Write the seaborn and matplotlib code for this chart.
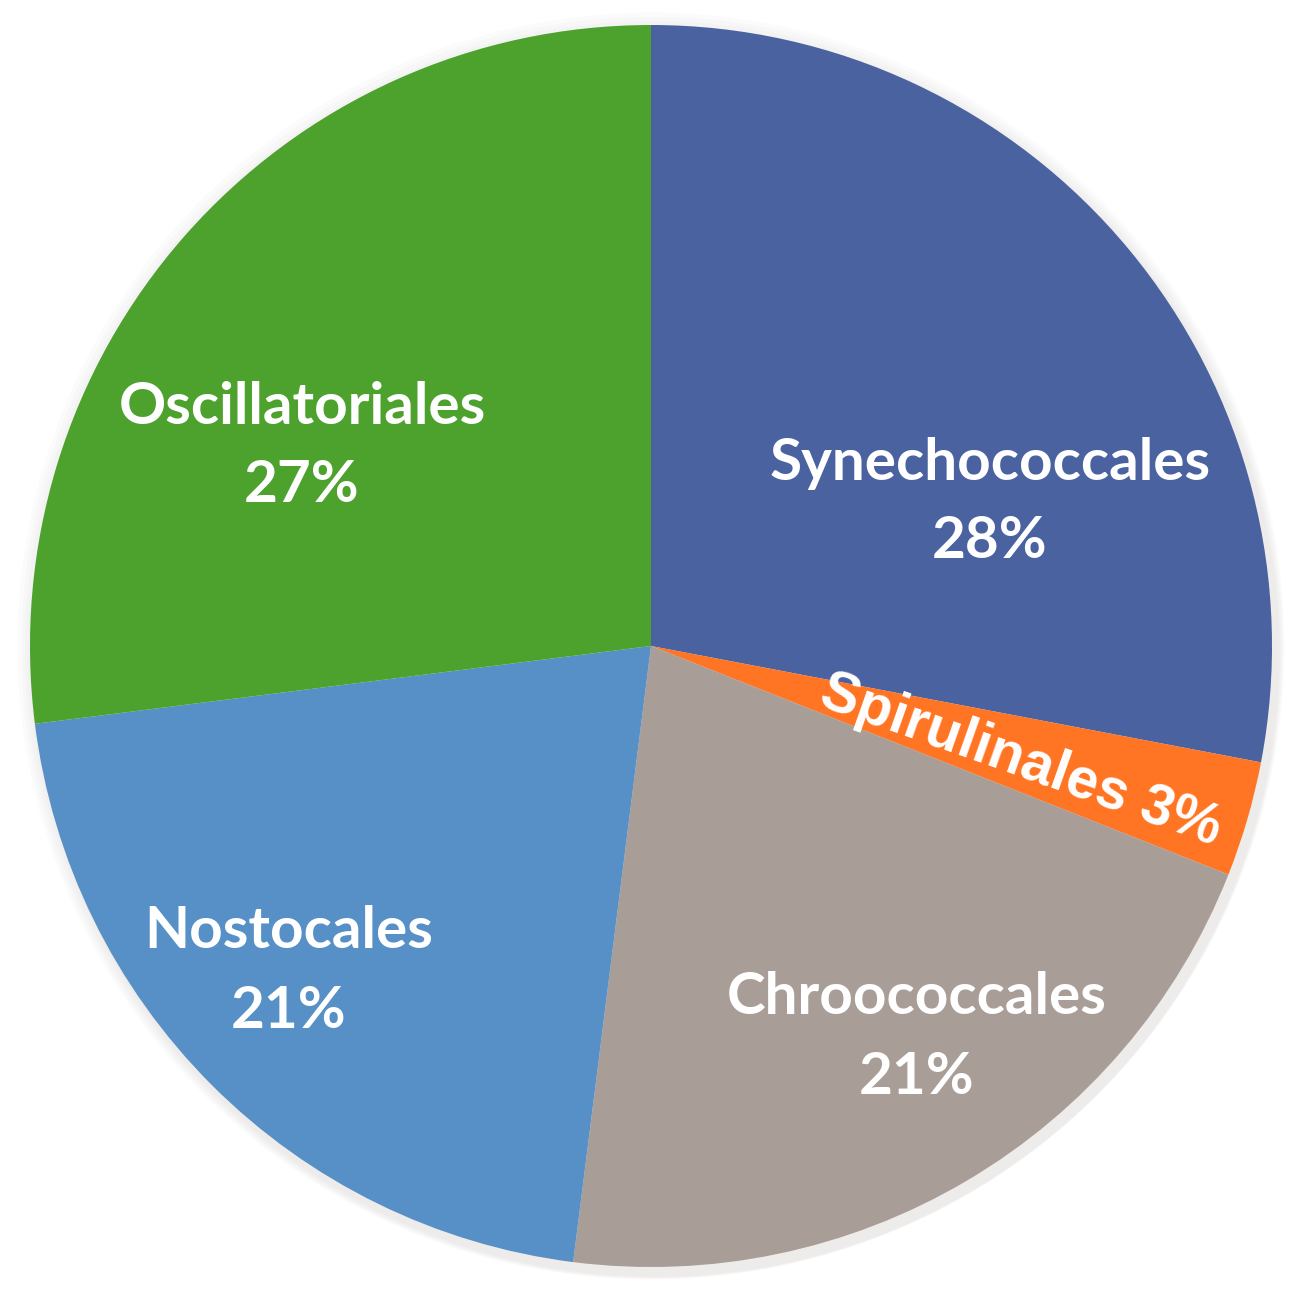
import matplotlib
matplotlib.use('Agg')
import matplotlib.pyplot as plt
import seaborn as sns
from matplotlib.patches import Circle

sns.set_theme(style='white')

orders = ['Synechococcales', 'Spirulinales', 'Chroococcales', 'Nostocales', 'Oscillatoriales']
shares = [28, 3, 21, 21, 27]
colors = ['#4A62A0', '#FF7524', '#A99D97', '#5690C6', '#4DA22E']

# figure is 1299x1303 px; pie centre at (651, 646) px, radius 621 px
W, H, R = 1299, 1303, 621
cx, cy = 651, 646
fig = plt.figure(figsize=(W / 100, H / 100), dpi=100)
ax = fig.add_axes([0, 0, 1, 1])

# soft shadow around the pie
for i in range(5):
    ax.add_patch(Circle((0.002 * i, -0.003 * i), 1.0 + 0.004 * (5 - i),
                        color='#7a6a65', alpha=0.025, lw=0, zorder=0))

wedges, _ = ax.pie(shares, colors=colors, startangle=90, counterclock=False,
                   radius=1.0, wedgeprops=dict(linewidth=0))

ax.set_xlim(-cx / R, (W - cx) / R)
ax.set_ylim(-(H - cy) / R, cy / R)
ax.set_aspect('auto')
ax.axis('off')

def px(x, y):
    return ((x - cx) / R, (cy - y) / R)

font = dict(color='white', fontweight='bold', family=['Lato', 'DejaVu Sans'],
            fontsize=42, ha='center', va='center')

label_px = {
    'Synechococcales': (990, 463),
    'Chroococcales': (917, 998),
    'Nostocales': (289, 932),
    'Oscillatoriales': (302, 407),
}
for name, val in zip(orders, shares):
    if name in label_px:
        x, y = label_px[name]
        ax.text(*px(x, y), name, **font)
        ax.text(*px(x, y + 79), f'{val}%', **font)

ax.text(*px(1021, 761), f'Spirulinales {shares[1]}%', color='white',
        fontweight='bold', family=['Liberation Sans', 'DejaVu Sans'],
        fontsize=41, ha='center', va='center', rotation=-19.5,
        rotation_mode='anchor')

fig.savefig('out.png', dpi=100, facecolor='white')
